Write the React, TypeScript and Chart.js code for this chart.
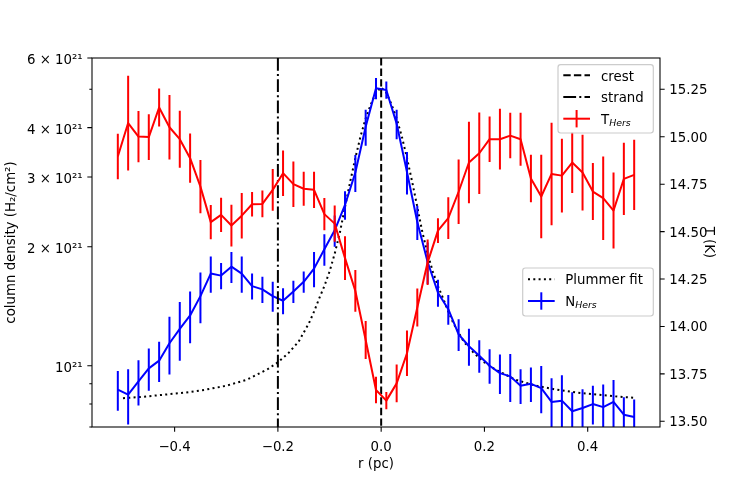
import { useEffect, useRef } from 'react';
import { Chart, registerables } from 'chart.js';

Chart.register(...registerables);

// radial offset from the crest (pc)
const radius = [
  -0.51, -0.49, -0.47, -0.45, -0.43, -0.41, -0.39, -0.37, -0.35, -0.33,
  -0.31, -0.29, -0.27, -0.25, -0.23, -0.21, -0.19, -0.17, -0.15, -0.13,
  -0.11, -0.09, -0.07, -0.05, -0.03, -0.01, 0.01, 0.03, 0.05, 0.07,
  0.09, 0.11, 0.13, 0.15, 0.17, 0.19, 0.21, 0.23, 0.25, 0.27,
  0.29, 0.31, 0.33, 0.35, 0.37, 0.39, 0.41, 0.43, 0.45, 0.47, 0.49,
];

// column density, units of 1e21 H2/cm2
const nHers = [
  0.87, 0.845, 0.913, 0.985, 1.03, 1.14, 1.24, 1.34, 1.5, 1.71,
  1.69, 1.78, 1.71, 1.59, 1.56, 1.5, 1.46, 1.54, 1.63, 1.76,
  1.97, 2.2, 2.55, 3.08, 4.02, 5.03, 4.98, 4.09, 3.09, 2.31,
  1.83, 1.53, 1.39, 1.2, 1.12, 1.06, 1.0, 0.958, 0.94, 0.89,
  0.9, 0.878, 0.81, 0.816, 0.767, 0.782, 0.8, 0.786, 0.81, 0.752, 0.742,
];
const nHersErr = [
  0.1, 0.135, 0.12, 0.12, 0.12, 0.19, 0.21, 0.2, 0.22, 0.18,
  0.13, 0.16, 0.18, 0.12, 0.12, 0.13, 0.11, 0.1, 0.1, 0.18,
  0.18, 0.2, 0.21, 0.33, 0.42, 0.31, 0.25, 0.35, 0.38, 0.23,
  0.22, 0.12, 0.12, 0.11, 0.12, 0.1, 0.1, 0.11, 0.13, 0.09,
  0.09, 0.12, 0.12, 0.13, 0.09, 0.09, 0.09, 0.11, 0.11, 0.08, 0.08,
];

// dust temperature (K)
const tHers = [
  14.896, 15.072, 15.001, 14.998, 15.154, 15.05, 14.987, 14.887, 14.737, 14.55,
  14.588, 14.532, 14.584, 14.644, 14.646, 14.72, 14.808, 14.75, 14.726, 14.72,
  14.592, 14.542, 14.36, 14.187, 13.929, 13.665, 13.609, 13.7, 13.859, 14.1,
  14.338, 14.505, 14.571, 14.71, 14.864, 14.913, 14.987, 14.987, 15.006, 14.987,
  14.78, 14.685, 14.804, 14.795, 14.864, 14.811, 14.711, 14.676, 14.611, 14.778, 14.799,
];
const tHersErr = [
  0.12, 0.25, 0.135, 0.12, 0.1, 0.17, 0.15, 0.13, 0.14, 0.09,
  0.09, 0.11, 0.12, 0.065, 0.07, 0.11, 0.12, 0.12, 0.09, 0.095,
  0.085, 0.095, 0.115, 0.11, 0.1, 0.07, 0.045, 0.1, 0.12, 0.1,
  0.12, 0.065, 0.11, 0.17, 0.215, 0.215, 0.12, 0.16, 0.12, 0.14,
  0.125, 0.22, 0.27, 0.195, 0.16, 0.2, 0.15, 0.22, 0.2, 0.19, 0.185,
];

// Plummer profile fit
const plummerR = [
  -0.5, -0.46, -0.42, -0.38, -0.34, -0.3, -0.26, -0.22, -0.2, -0.18,
  -0.16, -0.14, -0.13, -0.12, -0.11, -0.1, -0.09, -0.08, -0.07, -0.06,
  -0.05, -0.04, -0.03, -0.02, -0.01, 0, 0.01, 0.02, 0.03, 0.04,
  0.05, 0.06, 0.07, 0.08, 0.09, 0.1, 0.11, 0.12, 0.13, 0.14,
  0.16, 0.18, 0.2, 0.22, 0.26, 0.3, 0.34, 0.38, 0.42, 0.46, 0.49,
];
const plummerN = [
  0.828, 0.835, 0.845, 0.855, 0.87, 0.89, 0.922, 0.98, 1.02, 1.075,
  1.15, 1.28, 1.37, 1.48, 1.59, 1.73, 1.92, 2.17, 2.52, 2.92,
  3.35, 3.8, 4.22, 4.58, 4.9, 5.06, 4.9, 4.58, 4.22, 3.8,
  3.35, 2.92, 2.52, 2.17, 1.92, 1.73, 1.59, 1.48, 1.37, 1.28,
  1.15, 1.075, 1.02, 0.98, 0.922, 0.89, 0.87, 0.855, 0.845, 0.835, 0.83,
];

const crestR = 0;
const strandR = -0.2;

const xTicks = [-0.4, -0.2, 0, 0.2, 0.4];
const nTicks = [0.7, 0.8, 0.9, 1, 2, 3, 4, 5, 6];
const nTickLabels: Record<string, string> = {
  '1': '10²¹',
  '2': '2 × 10²¹',
  '3': '3 × 10²¹',
  '4': '4 × 10²¹',
  '6': '6 × 10²¹',
};
const tTicks = [13.5, 13.75, 14, 14.25, 14.5, 14.75, 15, 15.25];

const FONT = '"DejaVu Sans", sans-serif';
const FS = 13.33;
const TICK = 4.67;

const DASHED = [7.4, 3.2];
const DASHDOT = [12.8, 3.2, 2, 3.2];
const DOTTED = [2, 3.3];

function roundBox(ctx: CanvasRenderingContext2D, x: number, y: number, w: number, h: number) {
  ctx.save();
  ctx.beginPath();
  ctx.roundRect(x, y, w, h, 2.7);
  ctx.fillStyle = 'rgba(255,255,255,0.8)';
  ctx.fill();
  ctx.strokeStyle = '#cccccc';
  ctx.lineWidth = 1.2;
  ctx.stroke();
  ctx.restore();
}

function handleLine(ctx: CanvasRenderingContext2D, x: number, y: number, color: string, dash: number[], errbar: boolean) {
  ctx.save();
  ctx.strokeStyle = color;
  ctx.lineWidth = 2;
  ctx.setLineDash(dash);
  ctx.beginPath();
  ctx.moveTo(x, y);
  ctx.lineTo(x + 26.7, y);
  ctx.stroke();
  if (errbar) {
    ctx.setLineDash([]);
    ctx.beginPath();
    ctx.moveTo(x + 13.3, y - 8.7);
    ctx.lineTo(x + 13.3, y + 8.7);
    ctx.stroke();
  }
  ctx.restore();
}

function subLabel(ctx: CanvasRenderingContext2D, x: number, y: number, main: string, sub: string) {
  ctx.font = `${FS}px ${FONT}`;
  ctx.fillText(main, x, y);
  const w = ctx.measureText(main).width;
  ctx.font = `italic ${FS * 0.7}px ${FONT}`;
  ctx.fillText(sub, x + w, y + 2);
}

const figurePlugin = {
  id: 'figure',
  afterDatasetDraw(chart: any, args: any) {
    const ctx: CanvasRenderingContext2D = chart.ctx;
    const area = chart.chartArea;
    const xs = chart.scales.x;
    if (args.index !== 0 && args.index !== 1) return;
    const isN = args.index === 1;
    const ys = chart.scales[isN ? 'yN' : 'yT'];
    const vals = isN ? nHers : tHers;
    const errs = isN ? nHersErr : tHersErr;
    ctx.save();
    ctx.beginPath();
    ctx.rect(area.left, area.top, area.right - area.left, area.bottom - area.top);
    ctx.clip();
    ctx.strokeStyle = isN ? '#0000ff' : '#ff0000';
    ctx.lineWidth = 2;
    ctx.beginPath();
    radius.forEach((r, i) => {
      const px = xs.getPixelForValue(r);
      ctx.moveTo(px, ys.getPixelForValue(vals[i] - errs[i]));
      ctx.lineTo(px, ys.getPixelForValue(vals[i] + errs[i]));
    });
    ctx.stroke();
    if (isN) {
      // crest and strand markers
      ctx.strokeStyle = '#000000';
      [[crestR, DASHED], [strandR, DASHDOT]].forEach(([r, dash]: any) => {
        const px = xs.getPixelForValue(r);
        ctx.setLineDash(dash);
        ctx.beginPath();
        ctx.moveTo(px, area.top);
        ctx.lineTo(px, area.bottom);
        ctx.stroke();
      });
    }
    ctx.restore();
  },
  afterDraw(chart: any) {
    const ctx: CanvasRenderingContext2D = chart.ctx;
    const area = chart.chartArea;
    const xs = chart.scales.x;
    const yN = chart.scales.yN;
    const yT = chart.scales.yT;
    ctx.save();
    ctx.strokeStyle = '#000000';
    ctx.lineWidth = 1.07;
    ctx.strokeRect(area.left, area.top, area.right - area.left, area.bottom - area.top);
    ctx.beginPath();
    xTicks.forEach(t => {
      const px = xs.getPixelForValue(t);
      ctx.moveTo(px, area.bottom);
      ctx.lineTo(px, area.bottom + TICK);
    });
    nTicks.forEach(t => {
      const py = yN.getPixelForValue(t);
      const len = nTickLabels[String(t)] ? TICK : 2.67;
      ctx.moveTo(area.left - len, py);
      ctx.lineTo(area.left, py);
    });
    tTicks.forEach(t => {
      const py = yT.getPixelForValue(t);
      ctx.moveTo(area.right, py);
      ctx.lineTo(area.right + TICK, py);
    });
    ctx.stroke();

    // axis titles
    ctx.fillStyle = '#000000';
    ctx.font = `${FS}px ${FONT}`;
    ctx.textAlign = 'center';
    ctx.textBaseline = 'alphabetic';
    ctx.fillText('r (pc)', (area.left + area.right) / 2, 467.5);
    const midY = (area.top + area.bottom) / 2;
    ctx.save();
    ctx.translate(14.5, midY);
    ctx.rotate(-Math.PI / 2);
    ctx.fillText('column density (H₂/cm²)', 0, 0);
    ctx.restore();
    ctx.save();
    ctx.translate(704.5, midY);
    ctx.rotate(Math.PI / 2);
    ctx.fillText('T (K)', 0, 0);
    ctx.restore();

    // legend: crest / strand / T
    ctx.textAlign = 'left';
    roundBox(ctx, 558, 64.7, 95.3, 68.3);
    handleLine(ctx, 563.3, 75.3, '#000000', DASHED, false);
    handleLine(ctx, 563.3, 97, '#000000', DASHDOT, false);
    handleLine(ctx, 563.3, 118.7, '#ff0000', [], true);
    ctx.fillStyle = '#000000';
    ctx.font = `${FS}px ${FONT}`;
    ctx.fillText('crest', 601, 80.5);
    ctx.fillText('strand', 601, 102.2);
    subLabel(ctx, 601, 123.9, 'T', 'Hers');

    // legend: Plummer fit / N
    roundBox(ctx, 522.7, 268, 130.6, 48);
    handleLine(ctx, 528, 279.3, '#000000', DOTTED, false);
    handleLine(ctx, 528, 301, '#0000ff', [], true);
    ctx.font = `${FS}px ${FONT}`;
    ctx.fillText('Plummer fit', 565.3, 284.4);
    subLabel(ctx, 565.3, 306.1, 'N', 'Hers');
    ctx.restore();
  },
};

export default function App() {
  const canvasRef = useRef<HTMLCanvasElement>(null);
  const chartRef = useRef<Chart | null>(null);

  useEffect(() => {
    if (!canvasRef.current) return;
    if (chartRef.current) chartRef.current.destroy();

    const tickFont = { family: FONT, size: FS };

    chartRef.current = new Chart(canvasRef.current, {
      type: 'line',
      data: {
        datasets: [
          {
            label: 'T_Hers',
            data: radius.map((r, i) => ({ x: r, y: tHers[i] })),
            yAxisID: 'yT',
            borderColor: '#ff0000',
            borderWidth: 2,
            borderJoinStyle: 'round',
            pointRadius: 0,
            fill: false,
          },
          {
            label: 'N_Hers',
            data: radius.map((r, i) => ({ x: r, y: nHers[i] })),
            yAxisID: 'yN',
            borderColor: '#0000ff',
            borderWidth: 2,
            borderJoinStyle: 'round',
            pointRadius: 0,
            fill: false,
          },
          {
            label: 'Plummer fit',
            data: plummerR.map((r, i) => ({ x: r, y: plummerN[i] })),
            yAxisID: 'yN',
            borderColor: '#000000',
            borderWidth: 2,
            borderDash: DOTTED,
            pointRadius: 0,
            fill: false,
          },
        ],
      },
      options: {
        responsive: false,
        animation: false,
        devicePixelRatio: 1,
        layout: { padding: { top: 58, left: 0, right: 0, bottom: 0 } },
        plugins: {
          legend: { display: false },
          tooltip: { enabled: false },
        },
        scales: {
          x: {
            type: 'linear',
            min: -0.56,
            max: 0.54,
            grid: { display: false, drawTicks: false },
            border: { display: false },
            afterBuildTicks: (scale: any) => {
              scale.ticks = xTicks.map(v => ({ value: v }));
            },
            afterFit: (scale: any) => {
              scale.height = 53;
            },
            ticks: {
              font: tickFont,
              color: '#000000',
              padding: 12.5,
              maxRotation: 0,
              autoSkip: false,
              callback: (v: any) => {
                const n = Number(v);
                return (n < 0 ? '−' : '') + Math.abs(n).toFixed(1);
              },
            },
          },
          yN: {
            type: 'logarithmic',
            position: 'left',
            min: 0.7,
            max: 6,
            grid: { display: false, drawTicks: false },
            border: { display: false },
            afterBuildTicks: (scale: any) => {
              scale.ticks = nTicks.map(v => ({ value: v }));
            },
            afterFit: (scale: any) => {
              scale.width = 92;
            },
            ticks: {
              font: tickFont,
              color: '#000000',
              padding: 9.3,
              labelOffset: 2.5,
              autoSkip: false,
              callback: (v: any) => nTickLabels[String(v)] || '',
            },
          },
          yT: {
            type: 'linear',
            position: 'right',
            min: 13.47,
            max: 15.415,
            grid: { display: false, drawTicks: false },
            border: { display: false },
            afterBuildTicks: (scale: any) => {
              scale.ticks = tTicks.map(v => ({ value: v }));
            },
            afterFit: (scale: any) => {
              scale.width = 73;
            },
            ticks: {
              font: tickFont,
              color: '#000000',
              padding: 9.3,
              labelOffset: 1.5,
              autoSkip: false,
              callback: (v: any) => Number(v).toFixed(2),
            },
          },
        },
      },
      plugins: [figurePlugin],
    } as any);

    return () => {
      if (chartRef.current) {
        chartRef.current.destroy();
        chartRef.current = null;
      }
    };
  }, []);

  return (
    <div style={{ position: 'absolute', left: 0, top: 0, width: 733, height: 480, background: '#ffffff' }}>
      <canvas ref={canvasRef} width={733} height={480} style={{ display: 'block' }} />
    </div>
  );
}
